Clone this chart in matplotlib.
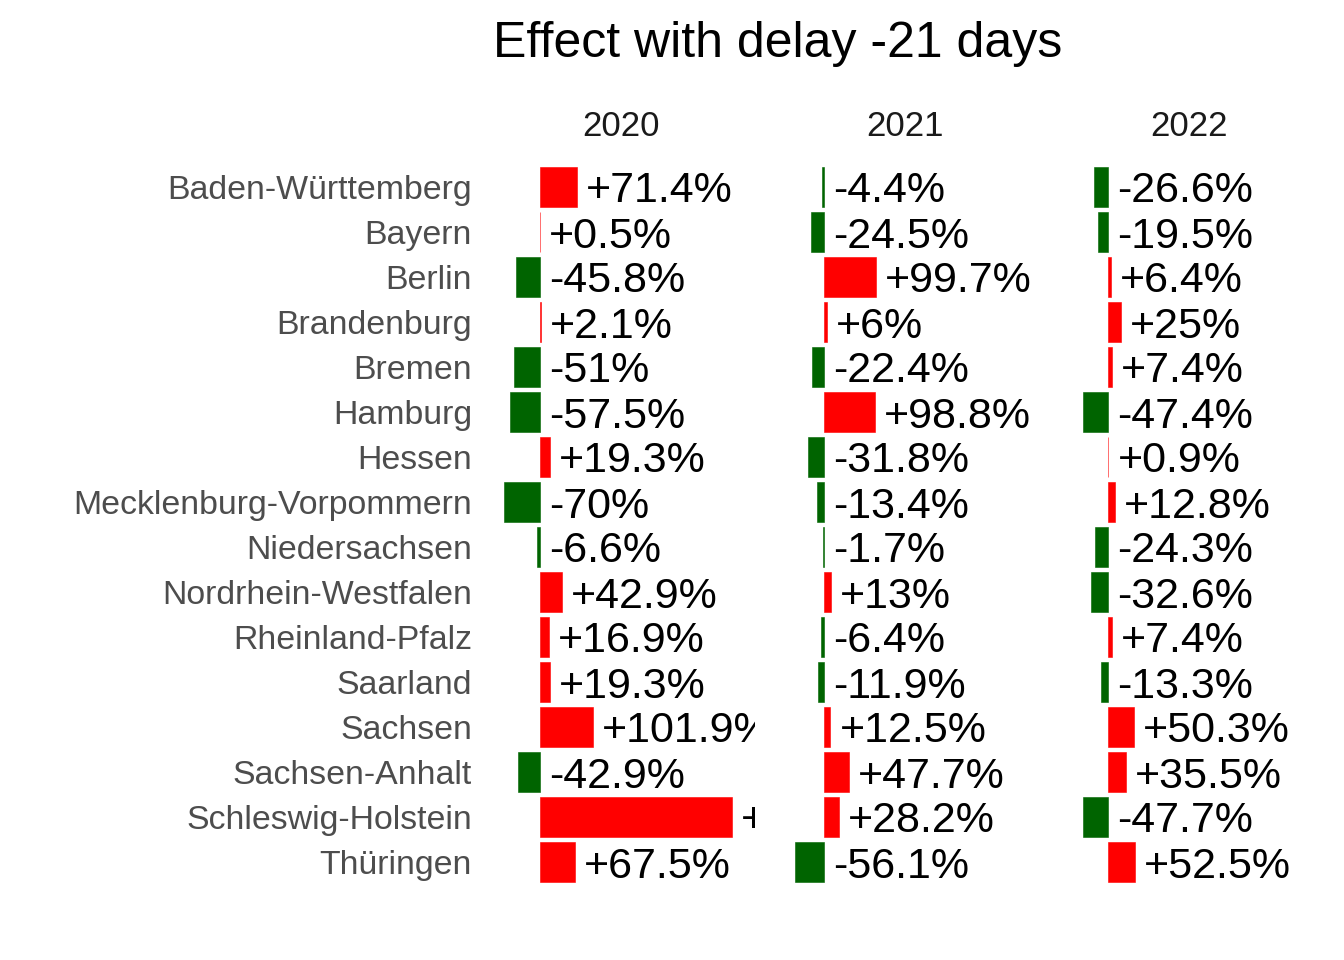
import matplotlib
matplotlib.use("Agg")
import matplotlib.pyplot as plt
import matplotlib.transforms as mtransforms
import numpy as np

plt.rcParams["font.family"] = ["Liberation Sans", "DejaVu Sans"]

states = ["Baden-Württemberg", "Bayern", "Berlin", "Brandenburg", "Bremen", "Hamburg",
          "Hessen", "Mecklenburg-Vorpommern", "Niedersachsen", "Nordrhein-Westfalen",
          "Rheinland-Pfalz", "Saarland", "Sachsen", "Sachsen-Anhalt", "Schleswig-Holstein",
          "Thüringen"]
years = ["2020", "2021", "2022"]
eff_2020 = [71.4, 0.5, -45.8, 2.1, -51, -57.5, 19.3, -70, -6.6, 42.9, 16.9, 19.3, 101.9, -42.9, 370.8, 67.5]
eff_2021 = [-4.4, -24.5, 99.7, 6, -22.4, 98.8, -31.8, -13.4, -1.7, 13, -6.4, -11.9, 12.5, 47.7, 28.2, -56.1]
eff_2022 = [-26.6, -19.5, 6.4, 25, 7.4, -47.4, 0.9, 12.8, -24.3, -32.6, 7.4, -13.3, 50.3, 35.5, -47.7, 52.5]
effects = [eff_2020, eff_2021, eff_2022]

W, H = 1344, 960
fig = plt.figure(figsize=(W/100, H/100), dpi=100)

# panel geometry in pixels (top-left origin)
lefts = [486, 770, 1054]; pw = 269
top, bot = 160, 889
y = np.arange(len(states))

for i, (yr, vals) in enumerate(zip(years, effects)):
    ax = fig.add_axes([lefts[i]/W, 1 - bot/H, pw/W, (bot - top)/H])
    vals = np.array(vals, float)
    cols = np.where(vals >= 0, "#FF0000", "#006400")
    ax.barh(y, vals, height=0.9, color=cols, edgecolor=cols, linewidth=0.4)
    off = mtransforms.offset_copy(ax.transData, fig=fig, x=9, y=0, units="dots")
    for yy, v in zip(y, vals):
        ax.text(max(v, 0), yy, f"{round(v, 1):+g}%", transform=off, ha="left", va="center_baseline",
                fontsize=31, color="black", clip_on=True)
    ax.set_xlim(-104.4, 415.9)
    ax.set_ylim(len(states) - 0.4, -0.6)
    for s in ax.spines.values(): s.set_visible(False)
    ax.set_xticks([])
    if i == 0:
        ax.set_yticks(y)
        ax.set_yticklabels(states, fontsize=24.4, color="#4D4D4D")
        ax.tick_params(axis="y", length=0, pad=10)
    else:
        ax.set_yticks([])
    tr = mtransforms.blended_transform_factory(ax.transAxes, fig.transFigure)
    ax.text(0.5, 1 - 127/H, yr, transform=tr, ha="center", va="center", fontsize=25, color="#1A1A1A")

fig.text(493/W, 1 - 44/H, "Effect with delay -21 days", ha="left", va="center", fontsize=36, color="black")

fig.savefig("out.png", dpi=100)
